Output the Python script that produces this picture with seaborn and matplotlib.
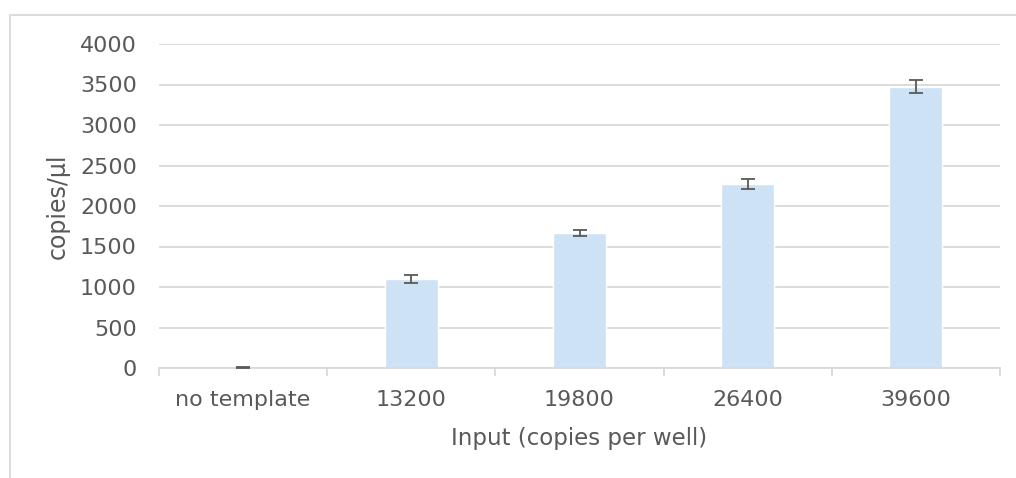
import numpy as np
import pandas as pd
import seaborn as sns
import matplotlib.pyplot as plt
from matplotlib.patches import Rectangle

# Data
categories = ['no template', '13200', '19800', '26400', '39600']
copies = [5, 1100, 1665, 2270, 3470]
errors = [3, 45, 37, 60, 80]

df = pd.DataFrame({'input': categories, 'copies': copies})

sns.set_theme(style='white')
plt.rcParams['font.family'] = ['DejaVu Sans']
text_col = '#595959'
grid_col = '#d9d9d9'

fig = plt.figure(figsize=(10.16, 4.78), dpi=100)
ax = fig.add_axes([159 / 1016, 1 - 368 / 478, 841 / 1016, 324 / 478])

sns.barplot(data=df, x='input', y='copies', color='#cde2f5', width=0.315,
            saturation=1, errorbar=None, ax=ax, zorder=2)
ax.errorbar(np.arange(len(categories)), copies, yerr=errors, fmt='none',
            ecolor='#595959', elinewidth=1.3, capsize=5, capthick=1.3, zorder=3)

ax.set_ylim(0, 4000)
ax.set_xlim(-0.5, len(categories) - 0.5)
ax.set_yticks(range(0, 4001, 500))
ax.yaxis.grid(True, color=grid_col, linewidth=1.3, zorder=0)
ax.set_axisbelow(True)

for side in ['top', 'right', 'left']:
    ax.spines[side].set_visible(False)
ax.spines['bottom'].set_color(grid_col)
ax.spines['bottom'].set_linewidth(1.3)

ax.tick_params(axis='x', which='major', length=0, pad=16, labelsize=16, labelcolor=text_col)
ax.tick_params(axis='y', length=0, pad=16, labelsize=16, labelcolor=text_col)
ax.set_xticks(np.arange(-0.5, len(categories)), minor=True)
ax.tick_params(axis='x', which='minor', bottom=True, length=6, width=1.3, color=grid_col)

ax.set_xlabel('Input (copies per well)', fontsize=16.5, color=text_col, labelpad=12)
ax.set_ylabel('copies/µl', fontsize=17, color=text_col, labelpad=7)

# chart area border (only left and top edges visible in the reference)
fig.patches.append(Rectangle((10 / 1016, -0.1), 1.2, 1.1 - 15 / 478,
                             transform=fig.transFigure, fill=False,
                             edgecolor=grid_col, linewidth=1.3))

fig.savefig('out.png', dpi=100)
